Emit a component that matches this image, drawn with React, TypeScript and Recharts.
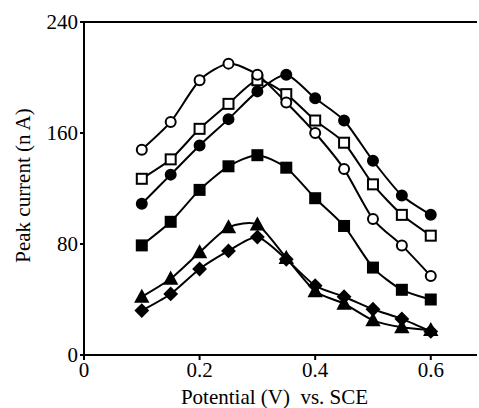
import { LineChart, Line, XAxis, YAxis, ReferenceLine } from 'recharts';

const potentials = [0.1, 0.15, 0.2, 0.25, 0.3, 0.35, 0.4, 0.45, 0.5, 0.55, 0.6];
const openCircle = [148, 168, 198, 210, 202, 182, 160, 134, 98, 79, 57];
const filledCircle = [109, 130, 151, 170, 190, 202, 185, 169, 140, 115, 101];
const openSquare = [127, 141, 163, 181, 198, 188, 169, 153, 123, 101, 86];
const filledSquare = [79, 96, 119, 136, 144, 135, 113, 93, 63, 47, 40];
const triangle = [42, 55, 74, 92, 94, 70, 46, 37, 25, 20, 18];
const diamond = [32, 44, 62, 75, 85, 69, 50, 42, 33, 26, 17];
const xTicks = [0, 0.2, 0.4, 0.6];
const yTicks = [0, 80, 160, 240];

const data = potentials.map((p, i) => ({
  p,
  oc: openCircle[i],
  fc: filledCircle[i],
  os: openSquare[i],
  fs: filledSquare[i],
  tr: triangle[i],
  di: diamond[i],
}));

// cardinal spline, a bit straighter than "natural"
const cardinal = (tension: number) => (ctx: any) => {
  let pts: number[][] = [];
  const k = (1 - tension) / 6;
  return {
    areaStart() {},
    areaEnd() {},
    lineStart() {
      pts = [];
    },
    point(x: number, y: number) {
      pts.push([+x, +y]);
    },
    lineEnd() {
      if (!pts.length) return;
      ctx.moveTo(pts[0][0], pts[0][1]);
      for (let i = 0; i < pts.length - 1; i++) {
        const p0 = pts[i - 1] || pts[i];
        const p1 = pts[i];
        const p2 = pts[i + 1];
        const p3 = pts[i + 2] || p2;
        ctx.bezierCurveTo(
          p1[0] + (p2[0] - p0[0]) * k,
          p1[1] + (p2[1] - p0[1]) * k,
          p2[0] - (p3[0] - p1[0]) * k,
          p2[1] - (p3[1] - p1[1]) * k,
          p2[0],
          p2[1],
        );
      }
    },
  };
};
const curve = cardinal(0.3);

type Shape = 'circle' | 'square' | 'triangle' | 'diamond';

const marker = (shape: Shape, filled: boolean) => (props: any) => {
  const { cx, cy, index } = props;
  if (cx == null || cy == null) return <g key={index} />;
  const fill = filled ? '#000' : '#fff';
  const common = { key: index, fill, stroke: '#000', strokeWidth: 2 };
  if (shape === 'circle') return <circle {...common} cx={cx} cy={cy} r={5} />;
  if (shape === 'square') return <rect {...common} x={cx - 5} y={cy - 5} width={10} height={10} />;
  if (shape === 'triangle')
    return <polygon {...common} points={`${cx},${cy - 6} ${cx + 6},${cy + 5} ${cx - 6},${cy + 5}`} />;
  return <polygon {...common} points={`${cx},${cy - 6} ${cx + 6},${cy} ${cx},${cy + 6} ${cx - 6},${cy}`} />;
};

const series: { key: string; shape: Shape; filled: boolean }[] = [
  { key: 'tr', shape: 'triangle', filled: true },
  { key: 'di', shape: 'diamond', filled: true },
  { key: 'fs', shape: 'square', filled: true },
  { key: 'fc', shape: 'circle', filled: true },
  { key: 'os', shape: 'square', filled: false },
  { key: 'oc', shape: 'circle', filled: false },
];

const serif = 'Liberation Serif';
const font = { fontFamily: serif, fontSize: 21, fill: '#000' };

export default function App() {
  return (
    <div style={{ position: 'absolute', top: 0, left: 0, background: '#fff', fontFamily: serif }}>
      <LineChart width={479} height={408} data={data} margin={{ top: 22, right: 2, left: 0, bottom: 0 }}>
        <XAxis
          dataKey="p"
          type="number"
          domain={[0, 0.68]}
          ticks={xTicks}
          allowDataOverflow
          height={53}
          stroke="#000"
          strokeWidth={2}
          tickSize={5}
          tick={font}
          label={{
            value: 'Potential (V)\u00A0 vs. SCE',
            position: 'center',
            dx: -6,
            dy: 15,
            style: font,
          }}
        />
        <YAxis
          type="number"
          domain={[0, 240]}
          ticks={yTicks}
          width={84}
          stroke="#000"
          strokeWidth={2}
          tickSize={4}
          tick={font}
          label={{
            value: 'Peak current (n A)',
            angle: -90,
            position: 'center',
            dx: -19,
            dy: -3,
            style: font,
          }}
        />
        <ReferenceLine y={240} stroke="#000" strokeWidth={2} />
        {series.map((s) => (
          <Line
            key={s.key}
            dataKey={s.key}
            type={curve as any}
            stroke="#000"
            strokeWidth={2}
            dot={marker(s.shape, s.filled)}
            activeDot={false}
            isAnimationActive={false}
          />
        ))}
      </LineChart>
    </div>
  );
}
